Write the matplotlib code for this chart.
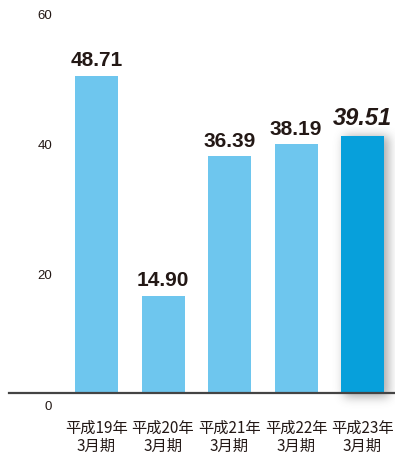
import numpy as np
import matplotlib
matplotlib.use("Agg")
import matplotlib.pyplot as plt
from matplotlib.transforms import ScaledTranslation

# EPS per fiscal period (yen)
categories = ["平成19年\n3月期", "平成20年\n3月期", "平成21年\n3月期", "平成22年\n3月期", "平成23年\n3月期"]
values = [48.71, 14.90, 36.39, 38.19, 39.51]
value_labels = ["48.71", "14.90", "36.39", "38.19", "39.51"]
yticks = [0, 20, 40, 60]

light_blue = "#6EC6EE"
dark_blue = "#07A0DB"
text_color = "#231815"

W, H, DPI = 395, 455, 100
fig = plt.figure(figsize=(W / DPI, H / DPI), dpi=DPI)

# axes placed in pixel terms: baseline at y=393, 60 at y=2.4, left edge x=9
ax_left_px, ax_right_px = 9, 395
base_px, top_px = 393, 2.4
ax = fig.add_axes([ax_left_px / W, (H - base_px) / H,
                   (ax_right_px - ax_left_px) / W, (base_px - top_px) / H])

step_px = 66.5
first_center = 96.5
xlim = (-(first_center - ax_left_px) / step_px, (ax_right_px - first_center) / step_px)

x = np.arange(len(values))
bar_w = 43 / step_px
colors = [light_blue] * (len(values) - 1) + [dark_blue]

# soft drop shadow behind the latest bar
px_x = step_px
px_y = (base_px - top_px) / 60.0
sx0, sx1 = x[-1] - bar_w / 2 - 14 / px_x, x[-1] + bar_w / 2 + 18 / px_x
sy0, sy1 = -18 / px_y, values[-1] + 8 / px_y
nx, ny = int((sx1 - sx0) * px_x), int((sy1 - sy0) * px_y)
xs = np.linspace(sx0, sx1, nx)
ys = np.linspace(sy1, sy0, ny)
mask = np.zeros((ny, nx))
inside_x = (xs > x[-1] - bar_w / 2 + 3 / px_x) & (xs < x[-1] + bar_w / 2 + 5 / px_x)
inside_y = (ys > -4 / px_y) & (ys < values[-1] - 1 / px_y)
mask[np.ix_(inside_y, inside_x)] = 1.0
k = np.exp(-0.5 * (np.arange(-15, 16) / 5.0) ** 2)
k /= k.sum()
mask = np.apply_along_axis(lambda r: np.convolve(r, k, mode="same"), 1, mask)
mask = np.apply_along_axis(lambda c: np.convolve(c, k, mode="same"), 0, mask)
shadow = np.zeros((ny, nx, 4))
shadow[..., :3] = 0.35
shadow[..., 3] = mask * 0.5
ax.imshow(shadow, extent=(sx0, sx1, sy0, sy1), aspect="auto", zorder=1,
          clip_on=False, interpolation="bilinear")
ax.set_xlim(*xlim)
ax.set_ylim(0, 60)

ax.bar(x, values, width=bar_w, color=colors, zorder=2)

for i, (v, lab) in enumerate(zip(values, value_labels)):
    last = i == len(values) - 1
    ax.annotate(lab, (x[i], v), xytext=(0, 4), textcoords="offset points",
                ha="center", va="bottom", fontsize=17 if last else 15,
                fontweight="bold", fontstyle="italic" if last else "normal",
                family=["Liberation Sans", "DejaVu Sans"],
                color=text_color, zorder=3, annotation_clip=False)

for s in ["top", "right", "left"]:
    ax.spines[s].set_visible(False)
ax.spines["bottom"].set_color("#444444")
ax.spines["bottom"].set_linewidth(1.6)
ax.spines["bottom"].set_zorder(4)

ax.set_yticks(yticks)
ax.set_yticklabels([str(t) for t in yticks])
ax.tick_params(axis="y", length=0, pad=-31, labelsize=9.5, labelcolor=text_color)
for t in ax.get_yticklabels():
    t.set_family(["Liberation Sans", "DejaVu Sans"])
    t.set_transform(t.get_transform() + ScaledTranslation(0, -12 / DPI, fig.dpi_scale_trans))

ax.set_xticks(x)
ax.set_xticklabels(categories, linespacing=1.15)
ax.tick_params(axis="x", length=0, pad=19, labelsize=11, labelcolor=text_color)
for t in ax.get_xticklabels():
    t.set_family(["Noto Sans CJK JP", "DejaVu Sans"])

fig.savefig("out.png", dpi=DPI)
